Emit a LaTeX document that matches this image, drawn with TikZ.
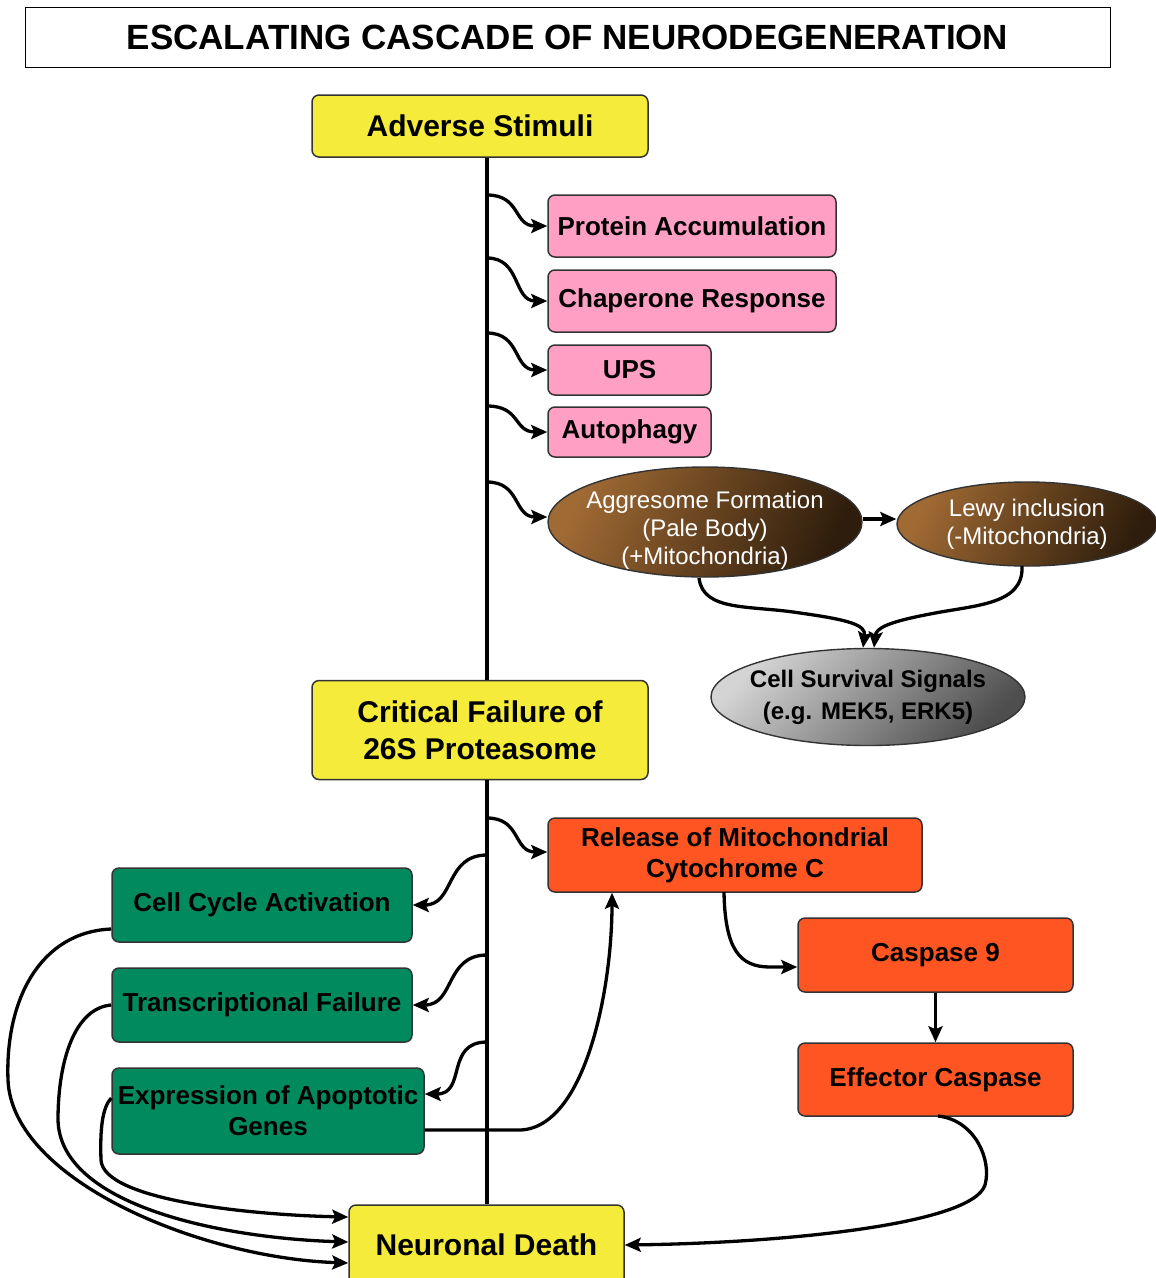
\documentclass[tikz,border=0pt]{standalone}
\usepackage{fontspec}
\setmainfont{Liberation Sans}
\usetikzlibrary{arrows.meta,shapes.geometric,calc}
\definecolor{yel}{HTML}{F4EB3A}
\definecolor{pnk}{HTML}{FF9FC4}
\definecolor{grn}{HTML}{008A5E}
\definecolor{org}{HTML}{FF5522}
\definecolor{bord}{HTML}{333333}
\definecolor{brlight}{HTML}{A06A34}
\definecolor{brdark}{HTML}{2E1D0C}
\definecolor{glight}{HTML}{D4D4D4}
\definecolor{gdark}{HTML}{4E4E4E}
\begin{document}
\begin{tikzpicture}[x=1pt,y=-1pt,
  box/.style={draw=bord, line width=1.5pt, rounded corners=7pt, inner sep=0pt, align=center, font=\bfseries\fontsize{26}{31}\selectfont},
  bigbox/.style={box, font=\bfseries\fontsize{30}{37}\selectfont},
  ybox/.style={bigbox, fill=yel},
  pbox/.style={box, fill=pnk},
  gbox/.style={box, fill=grn},
  obox/.style={box, fill=org},
  brell/.style={ellipse, draw=bord, line width=1.4pt, inner xsep=-40pt, inner ysep=-30pt, align=center, text=white,
     font=\fontsize{24}{28}\selectfont, shading=axis, top color=brlight, bottom color=brdark, shading angle=65},
  arr/.style={line width=3.3pt, -{Stealth[length=16pt,width=14pt,inset=3pt]}},
  spine/.style={line width=3.8pt}
]
\useasboundingbox (0,0) rectangle (1156,1278);

% title
\node[draw=black, line width=1pt, minimum width=1085pt, minimum height=60pt, inner sep=0pt,
      font=\bfseries\fontsize{35}{40}\selectfont] (title) at (567.5,37) {ESCALATING CASCADE OF NEURODEGENERATION};

% main yellow boxes
\node[ybox, minimum width=336pt, minimum height=62pt] (adverse) at (480,126) {Adverse Stimuli};
\node[ybox, minimum width=336pt, minimum height=99pt] (critical) at (480,730) {Critical Failure of\\26S Proteasome};
\node[ybox, minimum width=275pt, minimum height=80pt] (death) at (486.5,1245) {Neuronal Death};

% pink boxes
\node[pbox, minimum width=288pt, minimum height=62pt] (protein) at (692,226) {Protein Accumulation};
\node[pbox, minimum width=288pt, minimum height=62pt] (chaperone) at (692,301) {Chaperone Response};
\node[pbox, minimum width=163pt, minimum height=50pt] (ups) at (629.5,370) {UPS};
\node[pbox, minimum width=163pt, minimum height=50pt] (autophagy) at (629.5,432) {Autophagy};

% ellipses
\node[brell, minimum width=314pt, minimum height=110pt] (aggresome) at (705,522)
  {\raisebox{-15pt}[0pt][0pt]{\begin{tabular}{@{}c@{}}Aggresome Formation\\(Pale Body)\\(+Mitochondria)\end{tabular}}};
\node[brell, minimum width=260pt, minimum height=84pt] (lewy) at (1027,524) {Lewy inclusion\\(-Mitochondria)};
\node[ellipse, draw=bord, line width=1.4pt, inner xsep=-40pt, inner ysep=-30pt, align=center,
      font=\bfseries\fontsize{24}{32}\selectfont, shading=axis, top color=glight, bottom color=gdark, shading angle=45,
      minimum width=314pt, minimum height=97pt] (survival) at (868,697) {Cell Survival Signals\\(e.g. MEK5, ERK5)};

% orange boxes
\node[obox, minimum width=374pt, minimum height=74pt] (release) at (735,855) {Release of Mitochondrial\\Cytochrome C};
\node[obox, minimum width=275pt, minimum height=74pt] (casp9) at (935.5,955) {Caspase 9};
\node[obox, minimum width=275pt, minimum height=73pt] (effector) at (935.5,1079.5) {Effector Caspase};

% green boxes
\node[gbox, minimum width=300pt, minimum height=74pt] (cellcycle) at (262,905) {Cell Cycle Activation};
\node[gbox, minimum width=300pt, minimum height=74pt] (transcr) at (262,1005) {Transcriptional Failure};
\node[gbox, minimum width=312pt, minimum height=86pt] (expression) at (268,1111) {Expression of Apoptotic\\Genes};

% spine
\coordinate (sp) at (487,0);
\draw[spine] (adverse.south -| sp) -- (critical.north -| sp);
\draw[spine] (critical.south -| sp) -- (death.north -| sp);

% branch points
\coordinate (b1) at (487,195);
\coordinate (b2) at (487,258);
\coordinate (b3) at (487,333);
\coordinate (b4) at (487,406);
\coordinate (b5) at (487,482);
\coordinate (b6) at (487,818);
\coordinate (b7) at (487,855);
\coordinate (b8) at (487,955);
\coordinate (b9) at (487,1042);

\draw[arr] (b1) .. controls +(34,0) and +(-34,0) .. (protein.west);
\draw[arr] (b2) .. controls +(34,0) and +(-34,0) .. (chaperone.west);
\draw[arr] (b3) .. controls +(34,0) and +(-34,0) .. (ups.west);
\draw[arr] (b4) .. controls +(34,0) and +(-34,0) .. (autophagy.west);
\draw[arr] (b5) .. controls +(34,0) and +(-34,0) .. ([yshift=5pt]aggresome.west);
\draw[arr] (b6) .. controls +(34,0) and +(-34,0) .. ([yshift=3pt]release.west);

\draw[arr] (b7) .. controls +(-42,0) and +(42,0) .. (cellcycle.east);
\draw[arr] (b8) .. controls +(-42,0) and +(42,0) .. (transcr.east);
\draw[arr] (b9) .. controls +(-42,0) and +(42,0) .. ([yshift=17pt]expression.east);

% aggresome -> lewy
\draw[arr] ([yshift=3pt]aggresome.east) -- ([yshift=5pt]lewy.west);

% to survival
\coordinate (ag0) at (699,578);
\coordinate (lw0) at (1022,566);
\draw[arr] (ag0) .. controls (703,612) and (750,605) .. (800,613) .. controls (850,620) and (866,625) .. ([xshift=-5pt]survival.north);
\draw[arr] (lw0) .. controls (1024,605) and (975,605) .. (930,614) .. controls (888,622) and (876,628) .. ([xshift=6pt]survival.north);

% release -> caspase 9
\coordinate (rl0) at (724,892);
\draw[arr] (rl0) .. controls (725,950) and (740,967) .. (770,967) -- ([yshift=-12pt]casp9.west);

% casp9 -> effector
\draw[arr] (casp9.south) -- (effector.north);

% effector -> death
\coordinate (ef0) at (938,1116);
\draw[arr] (ef0) .. controls (975,1120) and (992,1160) .. (985,1185) .. controls (972,1225) and (780,1243) .. (death.east);

% expression -> release
\coordinate (ex1) at (520,1130);
\draw[arr] ([yshift=-19pt]expression.east) -- (ex1) .. controls (585,1128) and (612,990) .. ([xshift=-123pt]release.south);

% green -> death
\draw[arr] ([yshift=-24pt]cellcycle.west) .. controls (40,932) and (5,1000) .. (8,1080) .. controls (12,1180) and (200,1258) .. ([yshift=-18pt]death.west);
\draw[arr] (transcr.west) .. controls (75,1008) and (58,1060) .. (58,1120) .. controls (60,1205) and (220,1238) .. ([yshift=3pt]death.west);
\draw[arr] ([yshift=13pt]expression.west) .. controls (102,1108) and (100,1130) .. (101,1160) .. controls (103,1200) and (250,1215) .. ([yshift=28pt]death.west);

\end{tikzpicture}
\end{document}
